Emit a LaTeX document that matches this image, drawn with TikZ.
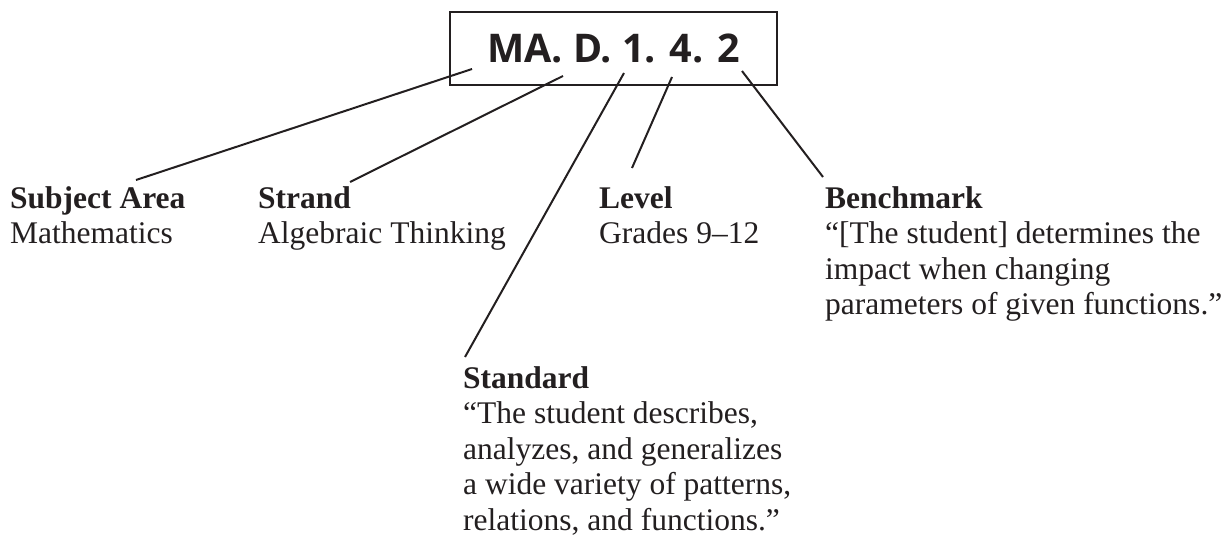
\documentclass[tikz,border=0pt]{standalone}
\usepackage{fontspec}
\setmainfont{Liberation Serif}
\newfontfamily\boxfont{Open Sans}
\usetikzlibrary{calc}
\definecolor{ink}{RGB}{35,31,32}
\begin{document}
\begin{tikzpicture}[x=1pt,y=-1pt,
  lbl/.style={inner sep=0pt, anchor=base west, text=ink, font=\fontsize{31.5}{35.5}\selectfont},
  codebox/.style={draw=ink, line width=2.5pt, minimum width=327pt, minimum height=73pt, inner sep=0pt,
    text=ink, font=\boxfont\bfseries\fontsize{39.5}{44}\selectfont},
  conn/.style={draw=ink, line width=2pt}]
\useasboundingbox (0,0) rectangle (1229,536);
\node[codebox] (box) at (613.5,48.5) {MA. D. 1. 4. 2};

\node[lbl] (subj) at (10,208) {\begin{tabular}[t]{@{}l@{}}\textbf{Subject Area}\\Mathematics\end{tabular}};
\node[lbl] (strand) at (258,208) {\begin{tabular}[t]{@{}l@{}}\textbf{Strand}\\Algebraic Thinking\end{tabular}};
\node[lbl] (level) at (599,208) {\begin{tabular}[t]{@{}l@{}}\textbf{Level}\\Grades 9–12\end{tabular}};
\node[lbl] (bench) at (825,208) {\begin{tabular}[t]{@{}l@{}}\textbf{Benchmark}\\“[The student] determines the\\impact when changing\\parameters of given functions.”\end{tabular}};
\node[lbl] (std) at (463,388) {\begin{tabular}[t]{@{}l@{}}\textbf{Standard}\\“The student describes,\\analyzes, and generalizes\\a wide variety of patterns,\\relations, and functions.”\end{tabular}};

\coordinate (s1) at (472,69);  \coordinate (e1) at (136,180);
\coordinate (s2) at (563,76);  \coordinate (e2) at (350,182);
\coordinate (s3) at (624,73);  \coordinate (e3) at (465,357);
\coordinate (s4) at (672,77);  \coordinate (e4) at (632,168);
\coordinate (s5) at (742,71);  \coordinate (e5) at (823,177);
\draw[conn] (s1) -- (e1);
\draw[conn] (s2) -- (e2);
\draw[conn] (s3) -- (e3);
\draw[conn] (s4) -- (e4);
\draw[conn] (s5) -- (e5);
\end{tikzpicture}
\end{document}
